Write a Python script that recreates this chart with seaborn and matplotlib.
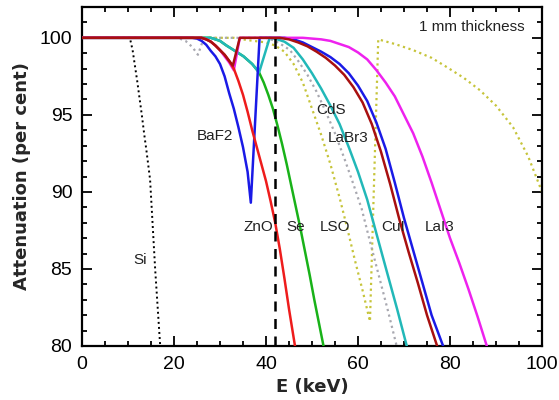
import matplotlib
matplotlib.use("Agg")
import matplotlib.pyplot as plt
import seaborn as sns
import pandas as pd
from matplotlib.ticker import MultipleLocator

# ---- data ----
si_e = [0, 10.4, 11.0, 11.5, 12.0, 12.5, 13.0, 13.5, 14.0, 14.8, 15.9, 17.0]
si_a = [100, 100, 99.2, 98.2, 97.2, 96.1, 95.0, 93.8, 92.7, 90.8, 85.0, 80.0]

cds_e = [0, 20.8, 22.5, 24.0, 25.2, 26.5, 40.0, 42.0, 44.0, 45.2, 47.0, 49.0, 51.0, 53.0, 55.0, 57.0,
         59.0, 60.8, 62.5, 64.5, 66.5, 68.4]
cds_a = [100, 100, 99.8, 99.4, 98.9, 100, 100, 99.8, 99.45, 99.2, 98.5, 97.6, 96.5, 95.2, 93.8, 92.2,
         90.5, 88.9, 86.9, 84.6, 82.3, 80.0]

lso_e = [0, 33.0, 36.0, 40.0, 42.0, 44.0, 46.0, 48.0, 50.0, 52.0, 54.0, 56.1, 57.7, 59.3, 61.0, 62.6,
         64.4, 68.0, 72.0, 76.0, 79.3, 83.0, 86.5, 90.0, 93.7, 97.0, 100.0]
lso_a = [100, 100, 99.85, 99.7, 99.5, 99.1, 98.3, 97.1, 95.4, 93.7, 91.8, 89.5, 87.6, 85.6, 83.6, 81.6,
         99.9, 99.6, 99.2, 98.7, 98.1, 97.4, 96.6, 95.6, 94.2, 92.3, 90.0]

se_e = [0, 28.0, 30.0, 31.4, 33.0, 35.1, 37.0, 38.5, 39.5, 40.5, 41.5, 42.5, 43.5, 44.5, 45.5, 46.5,
        47.5, 48.5, 49.5, 50.5, 51.5, 52.5]
se_a = [100, 100, 99.8, 99.5, 99.2, 98.8, 98.3, 97.75, 97.1, 96.3, 95.4, 94.3, 93.1, 91.8, 90.4, 89.0,
        87.6, 86.1, 84.6, 83.0, 81.5, 80.0]

labr3_e = [0, 28.0, 30.0, 31.4, 33.0, 35.1, 37.0, 38.5, 40.8, 42.0, 44.0, 46.0, 48.0, 50.0, 52.0, 54.0,
           56.0, 58.0, 60.0, 62.0, 64.0, 66.2, 68.5, 70.6]
labr3_a = [100, 100, 99.8, 99.5, 99.2, 98.8, 98.3, 97.75, 100, 99.95, 99.75, 99.35, 98.6, 97.7, 96.7, 95.6,
           94.4, 92.9, 91.3, 89.5, 87.3, 84.9, 82.4, 80.0]

baf2_e = [0, 24.0, 25.0, 26.0, 27.0, 28.0, 29.0, 30.0, 31.0, 32.0, 33.0, 34.0, 35.0, 36.0, 36.7, 38.6,
          44.0, 46.0, 48.0, 50.0, 52.0, 54.0, 56.0, 58.0, 60.0, 62.0, 64.0, 66.0, 68.0, 70.0, 72.0,
          74.0, 76.0, 78.5]
baf2_a = [100, 100, 99.95, 99.8, 99.55, 99.15, 98.8, 98.3, 97.5, 96.4, 95.4, 94.2, 92.9, 91.3, 89.3, 100,
          100, 99.9, 99.7, 99.4, 99.1, 98.75, 98.3, 97.7, 96.9, 95.9, 94.5, 92.8, 90.6, 88.3, 86.2,
          84.1, 82.0, 80.0]

lai3_e = [0, 26.0, 27.0, 28.0, 29.0, 30.0, 31.0, 32.0, 33.0, 34.3, 48.0, 50.0, 52.0, 54.0, 56.0, 58.0,
          60.0, 62.0, 64.0, 66.0, 68.0, 70.0, 72.0, 74.0, 76.0, 78.0, 80.0, 82.0, 84.0, 86.0, 88.0]
lai3_a = [100, 100, 99.9, 99.75, 99.5, 99.2, 98.8, 98.4, 97.9, 100, 100, 99.95, 99.9, 99.8, 99.6, 99.4,
          99.05, 98.6, 97.9, 97.1, 96.2, 95.0, 93.8, 92.3, 90.6, 88.8, 87.0, 85.4, 83.7, 81.9, 80.0]

zno_e = [0, 26.0, 27.0, 28.0, 29.0, 30.0, 31.0, 32.0, 33.0, 34.0, 35.0, 36.0, 37.0, 38.0, 39.0, 40.0,
         41.0, 42.0, 43.0, 44.0, 45.0, 46.3]
zno_a = [100, 100, 99.9, 99.75, 99.5, 99.2, 98.9, 98.5, 98.0, 97.2, 96.3, 95.2, 94.0, 92.9, 91.8, 90.7,
         89.4, 88.0, 86.3, 84.4, 82.4, 80.0]

cui_e = [0, 26.0, 27.0, 28.0, 29.0, 30.0, 31.0, 32.0, 32.8, 34.3, 43.0, 45.0, 47.0, 49.0, 51.0, 53.0,
         55.0, 57.0, 59.0, 61.0, 63.0, 65.0, 67.0, 69.0, 71.0, 73.0, 75.0, 77.2]
cui_a = [100, 100, 99.9, 99.75, 99.5, 99.2, 98.9, 98.5, 98.2, 100, 100, 99.9, 99.7, 99.45, 99.1, 98.7,
         98.2, 97.6, 96.8, 95.8, 94.4, 92.6, 90.5, 88.2, 86.1, 84.1, 82.0, 80.0]

labels = ["1 mm thickness", "BaF2", "CdS", "LaBr3", "Si", "ZnO", "Se", "LSO", "CuI", "LaI3"]
label_e = [96.3, 28.9, 54.1, 57.8, 12.6, 38.3, 46.5, 55.0, 67.6, 77.8]
label_a = [100.7, 93.6, 95.3, 93.5, 85.6, 87.7, 87.7, 87.7, 87.7, 87.7]

edge_e = 42.0

# ---- figure ----
sns.set_theme(style="white")
plt.rcParams['font.family'] = ['Liberation Sans', 'DejaVu Sans']

fig = plt.figure(figsize=(5.59, 4.0), dpi=100)
ax = fig.add_axes([0.1467, 0.135, 0.8229, 0.8475])

dot = (0, (1, 1.6))
curves = [
    (lso_e, lso_a, "#c6c43a", dot, 1.6, 1),
    (cds_e, cds_a, "#a8a8b0", dot, 1.6, 2),
    (si_e, si_a, "#000000", dot, 1.4, 3),
    (se_e, se_a, "#19b219", "-", 1.8, 4),
    (labr3_e, labr3_a, "#22b8b8", "-", 1.8, 5),
    (baf2_e, baf2_a, "#1a1ae6", "-", 1.8, 6),
    (lai3_e, lai3_a, "#ee22ee", "-", 1.8, 7),
    (zno_e, zno_a, "#ee1c1c", "-", 1.8, 8),
    (cui_e, cui_a, "#a81010", "-", 1.8, 9),
]
for e, a, c, ls, lw, z in curves:
    df = pd.DataFrame({"E": e, "A": a})
    sns.lineplot(data=df, x="E", y="A", ax=ax, color=c, linestyle=ls, linewidth=lw,
                 sort=False, estimator=None, zorder=z)

ax.axvline(edge_e, color="black", linestyle=(0, (4, 3)), linewidth=1.8, zorder=10)

for i, (t, xe, ya) in enumerate(zip(labels, label_e, label_a)):
    ha = "right" if i == 0 else "center"
    ax.text(xe, ya, t, ha=ha, va="center", fontsize=11, color="#222222", zorder=11)

ax.set_xlim(0, 100)
ax.set_ylim(80, 102)
ax.xaxis.set_major_locator(MultipleLocator(20))
ax.xaxis.set_minor_locator(MultipleLocator(5))
ax.yaxis.set_major_locator(MultipleLocator(5))
ax.yaxis.set_minor_locator(MultipleLocator(1))
ax.tick_params(which="both", direction="in", top=True, right=True, bottom=True, left=True,
               colors="black", width=1.3)
ax.tick_params(which="major", length=7, labelsize=14, pad=7)
ax.tick_params(which="minor", length=3.5)
for s in ax.spines.values():
    s.set_color("black")
    s.set_linewidth(1.6)

ax.set_xlabel("E (keV)", fontsize=13, fontweight="bold", family=["DejaVu Sans"], labelpad=4)
ax.set_ylabel("Attenuation (per cent)", fontsize=13, fontweight="bold", family=["DejaVu Sans"],
              labelpad=6)

fig.savefig("out.png", dpi=100, facecolor="white")
